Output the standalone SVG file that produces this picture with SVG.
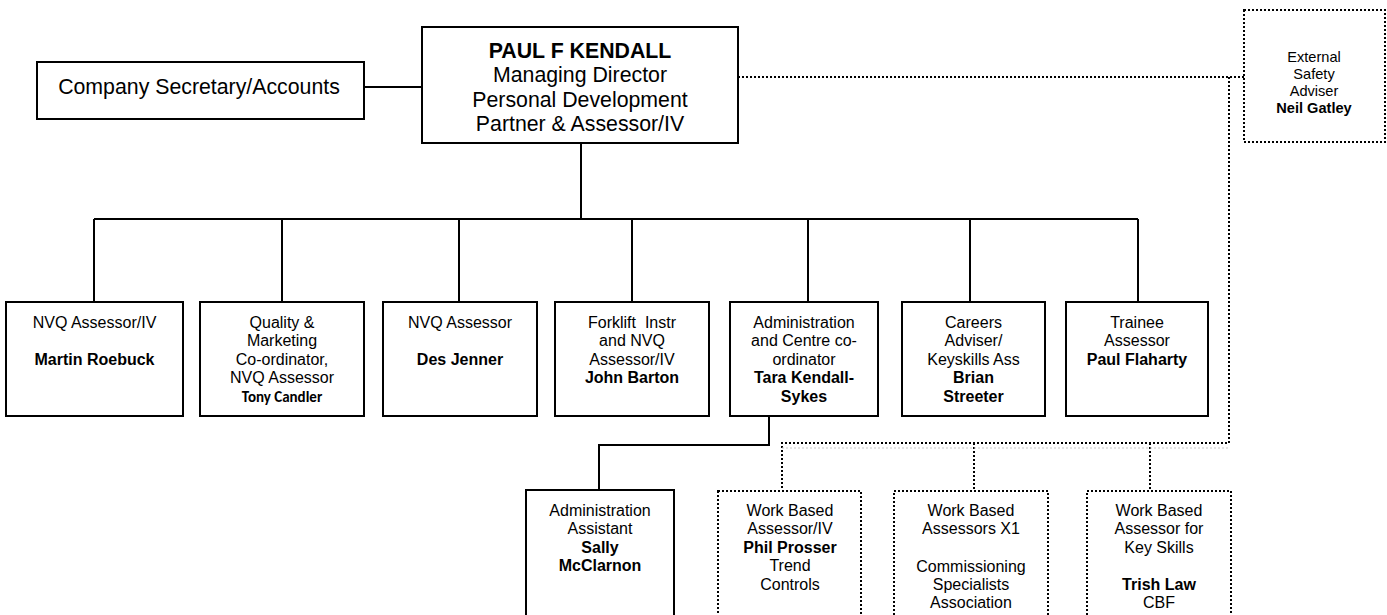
<svg xmlns="http://www.w3.org/2000/svg" width="1387" height="615" viewBox="0 0 1387 615">
<style>
.box{fill:#fff;stroke:#000;stroke-width:2}
.dbox{fill:#fff;stroke:#000;stroke-width:2;stroke-dasharray:2 2}
.ln{fill:none;stroke:#000;stroke-width:2}
.dl{fill:none;stroke:#000;stroke-width:2;stroke-dasharray:2 2}
.fl{fill:none;stroke:#c8c8c8;stroke-width:1;stroke-dasharray:2 2}
text{font-family:"Liberation Sans",Arial,sans-serif;fill:#000;text-anchor:middle}
.t{font-size:16px}
.b{font-weight:bold}
.big{font-size:21.3px}
.sm{font-size:14.6px}
.cal{font-family:Carlito,Lato,"Liberation Sans",sans-serif;font-weight:bold;font-size:15px}
</style>
<rect width="1387" height="615" fill="#fff"/>
<g id="connectors">
<path class="ln" d="M364 87H422"/>
<path class="ln" d="M581 143V219M94 219H1138M94 219V302M282 219V302M459 219V302M632 219V302M808 219V302M970 219V302M1138 219V302"/>
<path class="ln" d="M769 416V445H599V490"/>
<path class="dl" d="M738 77H1244M1229 77V443H782V490M974 443V490M1150 443V490"/>
<path class="fl" d="M782 448H1229"/>
</g>
<g id="company-secretary">
<rect class="box" x="37" y="62" width="327" height="57"/>
<text class="big" x="199" y="94">Company Secretary/Accounts</text>
</g>
<g id="paul-kendall">
<rect class="box" x="422" y="27" width="316" height="116"/>
<text class="big" x="580" y="57.5"><tspan class="b">PAUL F KENDALL</tspan><tspan x="580" dy="24.5">Managing Director</tspan><tspan x="580" dy="24.5">Personal Development</tspan><tspan x="580" dy="24.5">Partner &amp; Assessor/IV</tspan></text>
</g>
<g id="external-safety">
<rect class="dbox" x="1244" y="10" width="141" height="132"/>
<text class="sm" x="1314" y="62">External<tspan x="1314" dy="17">Safety</tspan><tspan x="1314" dy="17">Adviser</tspan><tspan x="1314" dy="17" class="b">Neil Gatley</tspan></text>
</g>
<g id="martin-roebuck">
<rect class="box" x="6" y="302" width="177" height="114"/>
<text class="t" x="94.5" y="328">NVQ Assessor/IV<tspan x="94.5" y="365" class="b">Martin Roebuck</tspan></text>
</g>
<g id="tony-candler">
<rect class="box" x="200" y="302" width="164" height="114"/>
<text class="t" x="282" y="328">Quality &amp;<tspan x="282" dy="18.4">Marketing</tspan><tspan x="282" dy="18.4">Co-ordinator,</tspan><tspan x="282" dy="18.4">NVQ Assessor</tspan></text>
<text class="cal" x="282" y="402">Tony Candler</text>
</g>
<g id="des-jenner">
<rect class="box" x="383" y="302" width="154" height="114"/>
<text class="t" x="460" y="328">NVQ Assessor<tspan x="460" y="365" class="b">Des Jenner</tspan></text>
</g>
<g id="john-barton">
<rect class="box" x="555" y="302" width="154" height="114"/>
<text class="t" x="632" y="328" xml:space="preserve">Forklift  Instr<tspan x="632" dy="18.4">and NVQ</tspan><tspan x="632" dy="18.4">Assessor/IV</tspan><tspan x="632" dy="18.4" class="b">John Barton</tspan></text>
</g>
<g id="tara-kendall-sykes">
<rect class="box" x="730" y="302" width="148" height="114"/>
<text class="t" x="804" y="328">Administration<tspan x="804" dy="18.4">and Centre co-</tspan><tspan x="804" dy="18.4">ordinator</tspan><tspan x="804" dy="18.4" class="b">Tara Kendall-</tspan><tspan x="804" dy="18.4" class="b">Sykes</tspan></text>
</g>
<g id="brian-streeter">
<rect class="box" x="902" y="302" width="143" height="114"/>
<text class="t" x="973.5" y="328">Careers<tspan x="973.5" dy="18.4">Adviser/</tspan><tspan x="973.5" dy="18.4">Keyskills Ass</tspan><tspan x="973.5" dy="18.4" class="b">Brian</tspan><tspan x="973.5" dy="18.4" class="b">Streeter</tspan></text>
</g>
<g id="paul-flaharty">
<rect class="box" x="1066" y="302" width="142" height="114"/>
<text class="t" x="1137" y="328">Trainee<tspan x="1137" dy="18.4">Assessor</tspan><tspan x="1137" dy="18.4" class="b">Paul Flaharty</tspan></text>
</g>
<g id="sally-mcclarnon">
<rect class="box" x="526" y="490" width="148" height="135"/>
<text class="t" x="600" y="516">Administration<tspan x="600" dy="18.4">Assistant</tspan><tspan x="600" dy="18.4" class="b">Sally</tspan><tspan x="600" dy="18.4" class="b">McClarnon</tspan></text>
</g>
<g id="phil-prosser">
<rect class="dbox" x="718" y="491" width="143" height="134"/>
<text class="t" x="790" y="516">Work Based<tspan x="790" dy="18.4">Assessor/IV</tspan><tspan x="790" dy="18.4" class="b">Phil Prosser</tspan><tspan x="790" dy="18.4">Trend</tspan><tspan x="790" dy="18.4">Controls</tspan></text>
</g>
<g id="commissioning-specialists">
<rect class="dbox" x="894" y="491" width="154" height="134"/>
<text class="t" x="971" y="516">Work Based<tspan x="971" dy="18.4">Assessors X1</tspan><tspan x="971" y="571.5">Commissioning</tspan><tspan x="971" dy="18.4">Specialists</tspan><tspan x="971" dy="18.4">Association</tspan></text>
</g>
<g id="trish-law">
<rect class="dbox" x="1087" y="491" width="144" height="134"/>
<text class="t" x="1159" y="516">Work Based<tspan x="1159" dy="18.4">Assessor for</tspan><tspan x="1159" dy="18.4">Key Skills</tspan><tspan x="1159" y="590" class="b">Trish Law</tspan><tspan x="1159" dy="18.4">CBF</tspan></text>
</g>
</svg>
